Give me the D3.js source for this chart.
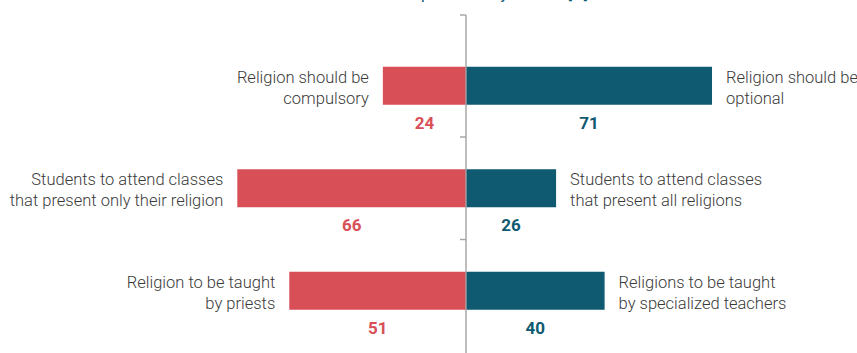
<!DOCTYPE html>
<html>
<head>
<meta charset="utf-8">
<script src="https://cdn.jsdelivr.net/npm/d3@7"></script>
<style>
  html, body { margin: 0; padding: 0; background: #ffffff; }
  svg { display: block; }
</style>
</head>
<body>
<svg id="chart" width="857" height="353"></svg>
<script>
// Survey items: each row pairs two opposing answers
const rows = ["compulsory", "classes", "teachers"];
const leftLabels = [
  ["Religion should be", "compulsory"],
  ["Students to attend classes", "that present only their religion"],
  ["Religion to be taught", "by priests"]
];
const rightLabels = [
  ["Religion should be", "optional"],
  ["Students to attend classes", "that present all religions"],
  ["Religions to be taught", "by specialized teachers"]
];
const leftValues = [24, 66, 51];
const rightValues = [71, 26, 40];
const titleText = "Respondents by answer [%]";

const RED = "#d84f58";
const BLUE = "#0f5971";
const TEXT = "#3a3a3a";
const AXIS = "#a3a3a3";

const svg = d3.select("#chart");
const centerX = 466;
const pxPerUnit = 3.465;

// Diverging horizontal scales sharing the centre line
const xLeft = d3.scaleLinear().domain([0, 100]).range([centerX, centerX - 100 * pxPerUnit]);
const xRight = d3.scaleLinear().domain([0, 100]).range([centerX, centerX + 100 * pxPerUnit]);

const y = d3.scaleBand().domain(rows).range([34.5, 342]).paddingInner(0).paddingOuter(0);
const barH = 38;
const barY = d => y(d) + (y.bandwidth() - barH) / 2;
const midY = d => y(d) + y.bandwidth() / 2;

// Partially visible heading at the top edge
svg.append("text")
  .attr("x", 588).attr("y", -1.5)
  .attr("text-anchor", "end")
  .attr("font-family", "Roboto, sans-serif")
  .attr("font-size", 16)
  .attr("fill", BLUE)
  .text(titleText);

// Bars
svg.append("g").selectAll("rect")
  .data(rows)
  .join("rect")
  .attr("x", (d, i) => xLeft(leftValues[i]))
  .attr("y", d => barY(d))
  .attr("width", (d, i) => xLeft(0) - xLeft(leftValues[i]))
  .attr("height", barH)
  .attr("fill", RED);

svg.append("g").selectAll("rect")
  .data(rows)
  .join("rect")
  .attr("x", xRight(0))
  .attr("y", d => barY(d))
  .attr("width", (d, i) => xRight(rightValues[i]) - xRight(0))
  .attr("height", barH)
  .attr("fill", BLUE);

// Centre axis with ticks between rows
const axisG = svg.append("g").attr("stroke", AXIS).attr("stroke-width", 1.4);
axisG.append("line")
  .attr("x1", centerX).attr("x2", centerX)
  .attr("y1", 15).attr("y2", 360);
const tickYs = [15].concat(rows.slice(1).map(d => y(d)));
axisG.selectAll("line.tick")
  .data(tickYs)
  .join("line")
  .attr("class", "tick")
  .attr("x1", centerX - 6).attr("x2", centerX)
  .attr("y1", d => d).attr("y2", d => d);

// Value labels under bar midpoints
svg.append("g").selectAll("text")
  .data(rows)
  .join("text")
  .attr("x", (d, i) => (xLeft(leftValues[i]) + xLeft(0)) / 2)
  .attr("y", d => barY(d) + barH + 24)
  .attr("text-anchor", "middle")
  .attr("font-family", "Roboto, sans-serif")
  .attr("font-weight", 700)
  .attr("font-size", 17)
  .attr("fill", RED)
  .text((d, i) => leftValues[i]);

svg.append("g").selectAll("text")
  .data(rows)
  .join("text")
  .attr("x", (d, i) => (xRight(rightValues[i]) + xRight(0)) / 2)
  .attr("y", d => barY(d) + barH + 24)
  .attr("text-anchor", "middle")
  .attr("font-family", "Roboto, sans-serif")
  .attr("font-weight", 700)
  .attr("font-size", 17)
  .attr("fill", BLUE)
  .text((d, i) => rightValues[i]);

// Two-line category labels beside the bars
function addLabels(labels, xPos, anchor) {
  const g = svg.append("g")
    .attr("font-family", "Roboto, sans-serif")
    .attr("font-weight", 300)
    .attr("font-size", 16.5)
    .attr("fill", TEXT)
    .attr("text-anchor", anchor);
  rows.forEach((r, i) => {
    const t = g.append("text").attr("x", xPos(i)).attr("y", midY(r) - 3);
    labels[i].forEach((line, j) => {
      t.append("tspan")
        .attr("x", xPos(i))
        .attr("dy", j === 0 ? 0 : 21)
        .text(line);
    });
  });
}
addLabels(leftLabels, i => xLeft(leftValues[i]) - 14, "end");
addLabels(rightLabels, i => xRight(rightValues[i]) + 14, "start");
</script>
</body>
</html>
